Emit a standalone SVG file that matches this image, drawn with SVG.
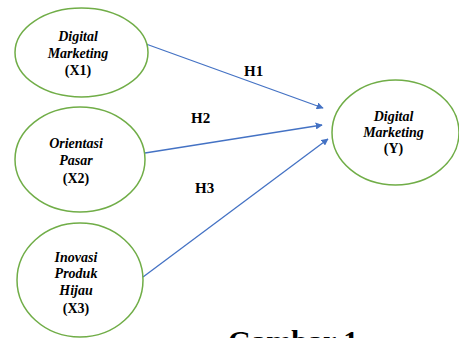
<svg xmlns="http://www.w3.org/2000/svg" width="459" height="338" viewBox="0 0 459 338">
<style>
.node ellipse{fill:#fff;stroke:#70AD47;stroke-width:1.5}
.t{font-family:"Liberation Serif","Times New Roman",serif;font-size:14px;font-weight:bold;text-anchor:middle;fill:#000}
.i{font-style:italic}
.lbl{font-family:"Liberation Serif","Times New Roman",serif;font-size:15px;font-weight:bold;fill:#000}
.edge{stroke:#4472C4;stroke-width:1.3;fill:none;marker-end:url(#ah)}
</style>
<defs>
<marker id="ah" viewBox="0 0 10 10" refX="9" refY="5" markerWidth="7" markerHeight="7" markerUnits="userSpaceOnUse" orient="auto"><path d="M0,0 L10,5 L0,10 z" fill="#4472C4"/></marker>
</defs>
<rect width="459" height="338" fill="#fff"/>
<g id="connectors">
<line class="edge" x1="146" y1="44" x2="323" y2="108"/>
<line class="edge" x1="145" y1="153" x2="322" y2="125"/>
<line class="edge" x1="143" y1="277" x2="328" y2="139"/>
</g>
<g id="labels">
<text class="lbl" x="244" y="76">H1</text>
<text class="lbl" x="191" y="123">H2</text>
<text class="lbl" x="195" y="193">H3</text>
</g>
<g id="x1" class="node">
<ellipse cx="81.5" cy="52.5" rx="66.5" ry="44.5"/>
<text class="t i" x="78" y="41">Digital</text>
<text class="t i" x="78" y="58">Marketing</text>
<text class="t" x="78" y="75">(X1)</text>
</g>
<g id="x2" class="node">
<ellipse cx="80" cy="159.5" rx="65" ry="52.5"/>
<text class="t i" x="76" y="148">Orientasi</text>
<text class="t i" x="76" y="165">Pasar</text>
<text class="t" x="76" y="183">(X2)</text>
</g>
<g id="x3" class="node">
<ellipse cx="80" cy="280" rx="63" ry="57"/>
<text class="t i" x="76" y="262">Inovasi</text>
<text class="t i" x="76" y="278">Produk</text>
<text class="t i" x="76" y="295">Hijau</text>
<text class="t" x="76" y="313">(X3)</text>
</g>
<g id="y" class="node">
<ellipse cx="395.5" cy="132.5" rx="63.5" ry="52.5"/>
<text class="t i" x="393.5" y="121">Digital</text>
<text class="t i" x="393.5" y="137">Marketing</text>
<text class="t" x="393.5" y="153">(Y)</text>
</g>
<text x="228" y="351" font-family="'Liberation Serif','Times New Roman',serif" font-size="30" font-weight="bold" fill="#000">Gambar 1</text>
</svg>
